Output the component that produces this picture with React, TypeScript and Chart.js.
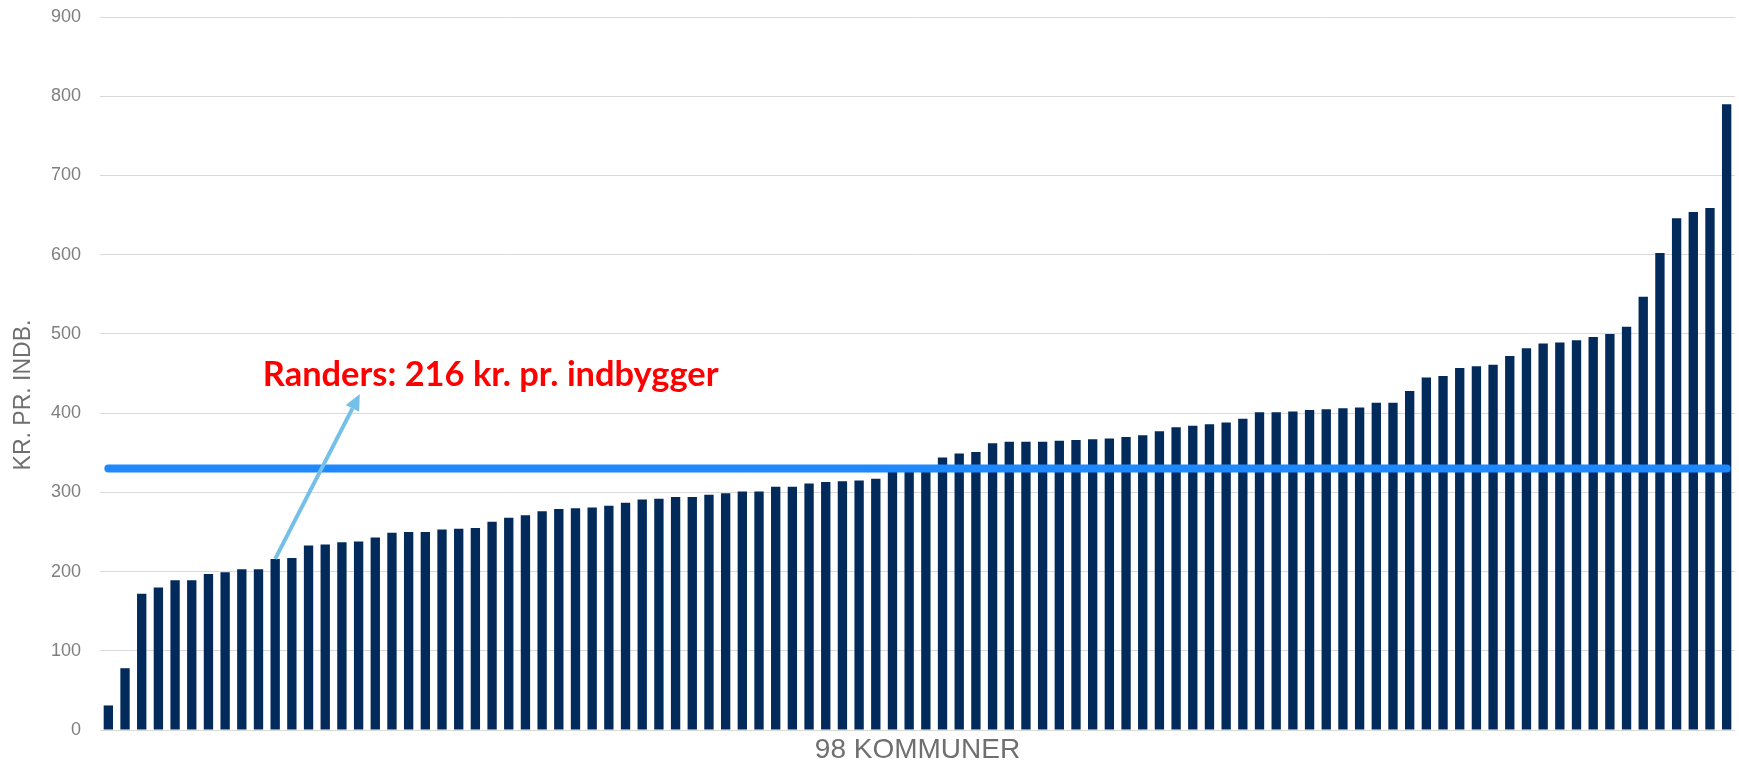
import React, { useEffect, useRef } from "react";
import { Chart, registerables } from "chart.js";

Chart.register(...registerables);

// Cost per inhabitant (kr. pr. indbygger) for the 98 municipalities, sorted ascending
const VALUES: number[] = [
  31, 78, 172, 180, 189, 189, 197, 199, 203, 203,
  216, 217, 233, 234, 237, 238, 243, 249, 250, 250,
  253, 254, 255, 263, 268, 271, 276, 279, 280, 281,
  283, 287, 291, 292, 294, 294, 297, 299, 301, 301,
  307, 307, 311, 313, 314, 315, 317, 326, 328, 330,
  344, 349, 351, 362, 364, 364, 364, 365, 366, 367,
  368, 370, 372, 377, 382, 384, 386, 388, 393, 401,
  401, 402, 404, 405, 406, 407, 413, 413, 428, 445,
  447, 457, 459, 461, 472, 482, 488, 489, 492, 496,
  500, 509, 547, 602, 646, 654, 659, 790,
];

const CATEGORIES: string[] = VALUES.map((_, i) => `Kommune ${i + 1}`);

const Y_MIN = 0;
const Y_MAX = 900;
const Y_STEP = 100;

const AVERAGE = 330;

const RANDERS_INDEX = 10;
const RANDERS_LABEL = "Randers: 216 kr. pr. indbygger";

const Y_TITLE = "KR. PR. INDB.";
const X_TITLE = "98 KOMMUNER";

// annotation placement (in data coordinates)
const ARROW_TIP = { index: 15.07, value: 424 };
const LABEL_POS = { index: 9.26, value: 434.5 };
const LABEL_WIDTH = 456;
// y-axis title placement (pixels)
const Y_TITLE_POS = { x: 24, y: 395 };

const overlayPlugin = {
  id: "overlay",
  afterDatasetsDraw(chart: any) {
    const { ctx, scales } = chart;
    const x = scales.x;
    const y = scales.y;
    ctx.save();

    // average line
    ctx.strokeStyle = "#1E88FF";
    ctx.lineWidth = 8;
    ctx.lineCap = "round";
    ctx.beginPath();
    ctx.moveTo(x.getPixelForValue(0), y.getPixelForValue(AVERAGE));
    ctx.lineTo(x.getPixelForValue(VALUES.length - 1), y.getPixelForValue(AVERAGE));
    ctx.stroke();

    // arrow
    const x0 = x.getPixelForValue(RANDERS_INDEX);
    const y0 = y.getPixelForValue(VALUES[RANDERS_INDEX]);
    const x1 = x.getPixelForValue(ARROW_TIP.index);
    const y1 = y.getPixelForValue(ARROW_TIP.value);
    const ang = Math.atan2(y1 - y0, x1 - x0);
    const headLen = 16;
    const headW = 7.5;
    const bx = x1 - headLen * Math.cos(ang);
    const by = y1 - headLen * Math.sin(ang);
    ctx.strokeStyle = "#74C0E8";
    ctx.fillStyle = "#74C0E8";
    ctx.lineWidth = 4;
    ctx.lineCap = "butt";
    ctx.beginPath();
    ctx.moveTo(x0, y0);
    ctx.lineTo(bx, by);
    ctx.stroke();
    const px = -Math.sin(ang);
    const py = Math.cos(ang);
    ctx.beginPath();
    ctx.moveTo(x1, y1);
    ctx.lineTo(bx + px * headW, by + py * headW);
    ctx.lineTo(bx - px * headW, by - py * headW);
    ctx.closePath();
    ctx.fill();

    // label
    ctx.font = "bold 30px Lato";
    const w = ctx.measureText(RANDERS_LABEL).width;
    const size = (30 * LABEL_WIDTH) / w;
    ctx.font = `bold ${size.toFixed(2)}px Lato`;
    ctx.fillStyle = "#FF0000";
    ctx.textAlign = "left";
    ctx.textBaseline = "alphabetic";
    ctx.fillText(
      RANDERS_LABEL,
      x.getPixelForValue(LABEL_POS.index),
      y.getPixelForValue(LABEL_POS.value)
    );

    // y-axis title
    ctx.translate(Y_TITLE_POS.x, Y_TITLE_POS.y);
    ctx.rotate(-Math.PI / 2);
    ctx.font = "23px 'Liberation Sans'";
    ctx.fillStyle = "#6f6f6f";
    ctx.textAlign = "center";
    ctx.textBaseline = "middle";
    ctx.fillText(Y_TITLE, 0, 0);
    ctx.restore();
  },
};

export default function App() {
  const canvasRef = useRef<HTMLCanvasElement | null>(null);

  useEffect(() => {
    if (!canvasRef.current) return;
    const chart = new Chart(canvasRef.current, {
      type: "bar",
      data: {
        labels: CATEGORIES,
        datasets: [
          {
            data: VALUES,
            backgroundColor: "#022B5C",
            borderWidth: 0,
            barPercentage: 0.56,
            categoryPercentage: 1,
          },
        ],
      },
      options: {
        animation: false,
        responsive: true,
        maintainAspectRatio: false,
        layout: { padding: { left: 0, right: 4, top: 17, bottom: 0 } },
        plugins: {
          legend: { display: false },
          tooltip: { enabled: false },
        },
        scales: {
          x: {
            grid: { display: false },
            border: { display: false },
            ticks: { display: false },
            title: {
              display: true,
              text: X_TITLE,
              color: "#6f6f6f",
              font: { family: "Liberation Sans", size: 28, lineHeight: 1 },
              padding: { top: 0, bottom: 0 },
            },
            afterFit(scale: any) {
              scale.height = 34;
            },
          },
          y: {
            min: Y_MIN,
            max: Y_MAX,
            ticks: {
              stepSize: Y_STEP,
              color: "#7f7f7f",
              padding: 19,
              font: { family: "Liberation Sans", size: 18 },
            },
            grid: { color: "#d9d9d9", lineWidth: 1, drawTicks: false },
            border: { display: false },
            title: { display: false },
            afterFit(scale: any) {
              scale.width = 100;
              scale.paddingTop = 8;
              scale.paddingBottom = 8;
            },
          },
        },
      },
      plugins: [overlayPlugin],
    });
    return () => chart.destroy();
  }, []);

  return (
    <div
      style={{
        position: "fixed",
        left: 0,
        top: 0,
        width: 1739,
        height: 764,
        background: "#ffffff",
      }}
    >
      <canvas ref={canvasRef} />
    </div>
  );
}
